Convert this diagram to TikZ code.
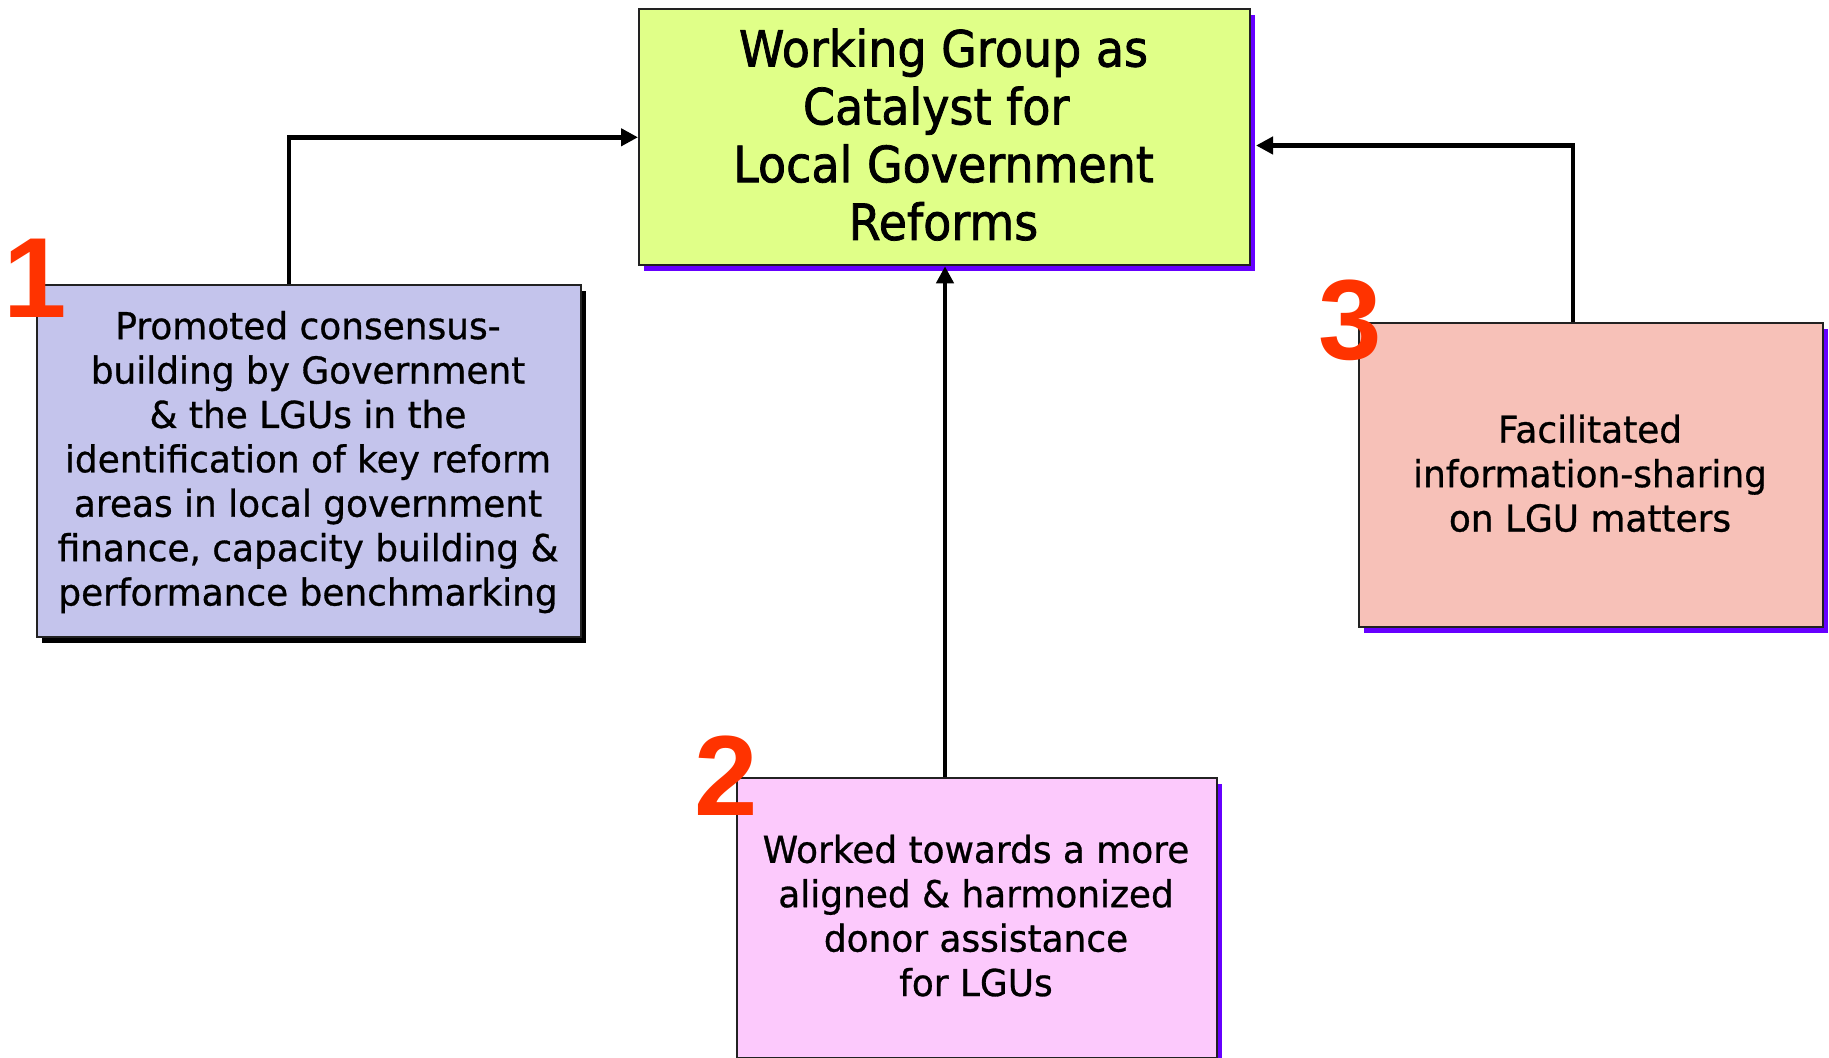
\documentclass[tikz,border=0pt]{standalone}
\usepackage{fontspec}
\setmainfont{DejaVu Sans}
\newfontfamily\bodyfont[FakeStretch=0.97,FakeBold=0.8]{DejaVu Sans}
\newfontfamily\titlefont[FakeStretch=0.92,FakeBold=1.5]{DejaVu Sans}
\newfontfamily\numfont{Liberation Sans}
\usetikzlibrary{arrows.meta,shadows}
\definecolor{gfill}{HTML}{E0FF88}
\definecolor{bfill}{HTML}{C4C4EC}
\definecolor{pfill}{HTML}{F7C1B8}
\definecolor{mfill}{HTML}{FCC9FC}
\definecolor{pshadow}{HTML}{6600FF}
\definecolor{numred}{HTML}{FF3300}
\definecolor{edge}{HTML}{222222}
\begin{document}
\begin{tikzpicture}[x=0.5pt,y=-0.5pt,
  box/.style={rectangle, draw=edge, line width=1pt, inner sep=0pt, anchor=north west},
  pshad/.style={general shadow={fill=pshadow, shadow xshift=2.5pt, shadow yshift=-3pt}},
  kshad/.style={general shadow={fill=black, shadow xshift=2.5pt, shadow yshift=-3.2pt}},
  bodytext/.style={align=center, inner sep=0pt, anchor=base, font=\bodyfont\fontsize{18.5pt}{22.2pt}\selectfont},
  titletext/.style={align=center, inner sep=0pt, anchor=base, font=\titlefont\fontsize{25pt}{28.9pt}\selectfont},
  numtext/.style={inner sep=0pt, anchor=base, text=numred, font=\numfont\bfseries\fontsize{57pt}{60pt}\selectfont},
  conn/.style={line width=2.4pt, draw=black, -{Triangle[length=8.5pt,width=8.5pt]}}
]
\useasboundingbox (0,0) rectangle (1829,1058);

% boxes
\node[box, pshad, fill=gfill, minimum width=305.5pt, minimum height=128pt] (g) at (638,8.3) {};
\node[box, kshad, fill=bfill, minimum width=272pt, minimum height=176pt] (b1) at (36,283.6) {};
\node[box, pshad, fill=pfill, minimum width=232pt, minimum height=151.75pt] (b3) at (1358,322) {};
\node[box, pshad, fill=mfill, minimum width=240pt, minimum height=140pt] (b2) at (736,776.7) {};

% texts (anchor base = baseline of the last line)
\node[titletext] (tg) at (943.5,240) {Working Group as~\\Catalyst for~~\\Local Government\\Reforms};
\node[bodytext] (t1) at (308,605.5) {Promoted consensus-\\building by Government\\\& the LGUs in the\\identification of key reform\\areas in local government\\finance, capacity building \&\\performance benchmarking};
\node[bodytext] (t3) at (1590,531.5) {Facilitated\\information-sharing\\on LGU matters};
\node[bodytext] (t2) at (976,996) {Worked towards a more\\aligned \& harmonized~\\donor assistance~\\for LGUs};

% connectors
\coordinate (k1) at (289,136.2);
\coordinate (k2) at (945,264);
\coordinate (k3) at (1573,145.5);
\draw[conn] (k1 |- b1.north) |- (g.west);
\draw[conn] (k2 |- b2.north) -- (k2 |- g.south);
\draw[conn] (k3 |- b3.north) -- (k3) -- ([xshift=2.5pt]g.east |- k3);

% numbers
\node[numtext] (n1) at (35,318) {1};
\node[numtext] (n2) at (726,815) {2};
\node[numtext] (n3) at (1350,360) {3};
\end{tikzpicture}
\end{document}
